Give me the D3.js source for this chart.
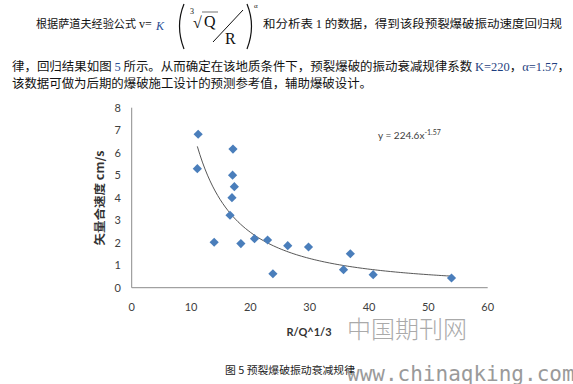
<!DOCTYPE html>
<html>
<head>
<meta charset="utf-8">
<script src="https://cdn.jsdelivr.net/npm/d3@7"></script>
<style>
  body { margin: 0; background: #fff; }
  svg { display: block; }
</style>
</head>
<body>
<div id="chart"></div>
<script>
// scaled distance R/Q^1/3 and vector velocity (cm/s)
var distVals = [11.2, 11.06, 13.9, 17.07, 17.0, 17.3, 16.9, 16.57, 18.4, 20.7, 22.9, 23.8, 26.3, 29.8, 36.85, 35.7, 40.7, 53.9];
var speedVals = [6.82, 5.29, 2.02, 6.16, 5.0, 4.49, 4.0, 3.22, 1.96, 2.18, 2.12, 0.62, 1.87, 1.81, 1.51, 0.80, 0.58, 0.43];
var xTicks = [0, 10, 20, 30, 40, 50, 60];
var yTicks = [0, 1, 2, 3, 4, 5, 6, 7, 8];
// power trend line as drawn
var trendK = 280, trendExp = 1.58, trendFrom = 11.06, trendTo = 53.9;
var trendLabel = "y = 224.6x";
var trendPow = "-1.57";

var width = 573, height = 384;
var cjk = "'Noto Sans CJK SC', sans-serif";
var serif = "'Liberation Serif', 'DejaVu Serif', serif";
var calib = "Lato, 'Open Sans', sans-serif";

var svg = d3.select("#chart").append("svg")
    .attr("width", width)
    .attr("height", height);

svg.append("rect").attr("width", width).attr("height", height).attr("fill", "#fff");

// ---- paragraph text ----
svg.append("text")
    .attr("x", 36).attr("y", 28)
    .attr("font-family", cjk).attr("font-size", 11.5).attr("fill", "#111")
    .attr("textLength", 100).attr("lengthAdjust", "spacingAndGlyphs")
    .text("根据萨道夫经验公式");

// formula v = K (cbrt(Q)/R)^a
var f = svg.append("g").attr("font-family", serif).attr("fill", "#111");
f.append("text").attr("x", 139).attr("y", 28).attr("font-size", 12).text("v=");
f.append("text").attr("x", 156).attr("y", 30).attr("font-size", 12)
    .attr("font-style", "italic").attr("fill", "#2a4f96").text("K");
f.append("path").attr("d", "M184,4 Q175,26 184,49").attr("fill", "none").attr("stroke", "#111").attr("stroke-width", 1.2);
f.append("path").attr("d", "M247,4 Q256,26 247,49").attr("fill", "none").attr("stroke", "#111").attr("stroke-width", 1.2);
f.append("text").attr("x", 190).attr("y", 14).attr("font-size", 8).text("3");
f.append("text").attr("x", 193).attr("y", 28).attr("font-size", 16).text("√");
f.append("path").attr("d", "M202,12 L218,12").attr("stroke", "#111").attr("stroke-width", 0.6);
f.append("text").attr("x", 204).attr("y", 27).attr("font-size", 16).text("Q");
f.append("path").attr("d", "M213,42 L243,10").attr("stroke", "#111").attr("stroke-width", 1);
f.append("text").attr("x", 225).attr("y", 44).attr("font-size", 16).text("R");
f.append("text").attr("x", 254).attr("y", 8).attr("font-size", 7).text("α");

var t1b = svg.append("text")
    .attr("x", 263).attr("y", 28)
    .attr("font-family", cjk).attr("font-size", 11.5).attr("fill", "#111")
    .attr("textLength", 299).attr("lengthAdjust", "spacingAndGlyphs");
t1b.append("tspan").text("和分析表 ");
t1b.append("tspan").attr("font-family", serif).text("1");
t1b.append("tspan").text(" 的数据，得到该段预裂爆破振动速度回归规");

var t2 = svg.append("text")
    .attr("x", 12).attr("y", 71)
    .attr("font-family", cjk).attr("font-size", 12).attr("fill", "#111")
    .attr("textLength", 558).attr("lengthAdjust", "spacingAndGlyphs");
t2.append("tspan").text("律，回归结果如图 ");
t2.append("tspan").attr("font-family", serif).attr("fill", "#2a4f96").text("5");
t2.append("tspan").text(" 所示。从而确定在该地质条件下，预裂爆破的振动衰减规律系数 ");
t2.append("tspan").attr("font-family", serif).attr("fill", "#1f3f80").text("K=220");
t2.append("tspan").text("，");
t2.append("tspan").attr("font-family", serif).attr("fill", "#1f3f80").text("α=1.57");
t2.append("tspan").text("，");

svg.append("text")
    .attr("x", 12).attr("y", 88)
    .attr("font-family", cjk).attr("font-size", 12.3).attr("fill", "#111")
    .attr("textLength", 360).attr("lengthAdjust", "spacingAndGlyphs")
    .text("该数据可做为后期的爆破施工设计的预测参考值，辅助爆破设计。");

// ---- chart ----
var x = d3.scaleLinear().domain([0, 60]).range([131.7, 487.7]);
var y = d3.scaleLinear().domain([0, 8]).range([287.7, 107.7]);

var g = svg.append("g");

g.append("line")
    .attr("x1", x(0)).attr("x2", x(0)).attr("y1", y(8)).attr("y2", y(0))
    .attr("stroke", "#8c8c8c").attr("stroke-width", 1);
g.append("line")
    .attr("x1", x(0)).attr("x2", x(60)).attr("y1", y(0)).attr("y2", y(0))
    .attr("stroke", "#8c8c8c").attr("stroke-width", 1);

g.selectAll(".ytick").data(yTicks).enter().append("text")
    .attr("class", "ytick")
    .attr("x", 121).attr("y", function (d) { return y(d) + 4; })
    .attr("text-anchor", "end")
    .attr("font-family", calib).attr("font-size", 11).attr("fill", "#404040")
    .text(function (d) { return d; });

g.selectAll(".xtick").data(xTicks).enter().append("text")
    .attr("class", "xtick")
    .attr("x", function (d) { return x(d); }).attr("y", 311)
    .attr("text-anchor", "middle")
    .attr("font-family", calib).attr("font-size", 11).attr("fill", "#404040")
    .text(function (d) { return d; });

g.append("text")
    .attr("transform", "translate(104,198) rotate(-90)")
    .attr("text-anchor", "middle")
    .attr("font-family", cjk).attr("font-size", 11).attr("font-weight", "bold").attr("fill", "#333")
    .attr("textLength", 95).attr("lengthAdjust", "spacingAndGlyphs")
    .text("矢量合速度 cm/s");

g.append("text")
    .attr("x", 309).attr("y", 336)
    .attr("text-anchor", "middle")
    .attr("font-family", calib).attr("font-size", 11).attr("font-weight", "bold").attr("fill", "#333")
    .text("R/Q^1/3");

// trend line
var trendPts = d3.range(0, 101).map(function (i) {
    var xv = trendFrom + (trendTo - trendFrom) * i / 100;
    return [xv, trendK * Math.pow(xv, -trendExp)];
});
g.append("path")
    .datum(trendPts)
    .attr("fill", "none")
    .attr("stroke", "#444")
    .attr("stroke-width", 0.9)
    .attr("d", d3.line()
        .x(function (d) { return x(d[0]); })
        .y(function (d) { return y(d[1]); }));

// diamonds
var pts = distVals.map(function (d, i) { return {x: d, y: speedVals[i]}; });
g.selectAll(".pt").data(pts).enter().append("path")
    .attr("class", "pt")
    .attr("transform", function (d) { return "translate(" + x(d.x) + "," + y(d.y) + ")"; })
    .attr("d", "M0,-4.6L4.6,0L0,4.6L-4.6,0Z")
    .attr("fill", "#4a7ebb");

var eq = g.append("text")
    .attr("x", 378).attr("y", 139)
    .attr("font-family", calib).attr("font-size", 10).attr("fill", "#404040");
eq.append("tspan").text(trendLabel);
eq.append("tspan").attr("dy", -4).attr("font-size", 7).text(trendPow);

// caption
svg.append("text")
    .attr("x", 225).attr("y", 374)
    .attr("font-family", cjk).attr("font-size", 10).attr("fill", "#222")
    .attr("textLength", 130).attr("lengthAdjust", "spacingAndGlyphs")
    .text("图 5  预裂爆破振动衰减规律");

// watermarks
svg.append("text")
    .attr("x", 347).attr("y", 338)
    .attr("font-family", cjk).attr("font-size", 24).attr("font-weight", 300).attr("fill", "#aaa")
    .attr("textLength", 120).attr("lengthAdjust", "spacing")
    .text("中国期刊网");
svg.append("text")
    .attr("x", 347).attr("y", 381)
    .attr("font-family", "'DejaVu Sans Mono', monospace").attr("font-size", 21).attr("fill", "#9a9a9a")
    .text("www.chinaqking.com");
</script>
</body>
</html>
